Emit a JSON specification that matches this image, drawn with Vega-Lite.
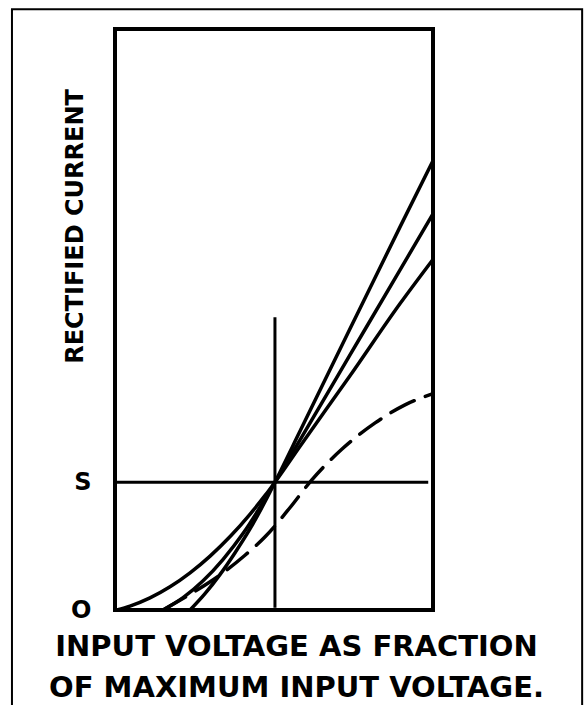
{
  "$schema": "https://vega.github.io/schema/vega-lite/v6.json",
  "width": 318,
  "height": 581,
  "autosize": {"type": "none"},
  "padding": {"left": 115, "top": 29, "right": 152, "bottom": 95},
  "background": "white",
  "config": {
    "view": {"stroke": "black", "strokeWidth": 4},
    "axis": {"grid": false}
  },
  "datasets": {
    "curves": [
      {"curve": "A", "v": 0.006, "i": 0.0},
      {"curve": "A", "v": 0.047, "i": 0.0066},
      {"curve": "A", "v": 0.110, "i": 0.0208},
      {"curve": "A", "v": 0.173, "i": 0.0399},
      {"curve": "A", "v": 0.236, "i": 0.0639},
      {"curve": "A", "v": 0.299, "i": 0.0928},
      {"curve": "A", "v": 0.362, "i": 0.1265},
      {"curve": "A", "v": 0.425, "i": 0.1652},
      {"curve": "A", "v": 0.472, "i": 0.1972},
      {"curve": "A", "v": 0.503, "i": 0.220},
      {"curve": "A", "v": 0.582, "i": 0.282},
      {"curve": "A", "v": 0.739, "i": 0.403},
      {"curve": "A", "v": 0.896, "i": 0.527},
      {"curve": "A", "v": 0.998, "i": 0.602},
      {"curve": "B", "v": 0.151, "i": 0.0},
      {"curve": "B", "v": 0.214, "i": 0.0212},
      {"curve": "B", "v": 0.277, "i": 0.0503},
      {"curve": "B", "v": 0.340, "i": 0.0873},
      {"curve": "B", "v": 0.403, "i": 0.132},
      {"curve": "B", "v": 0.465, "i": 0.1849},
      {"curve": "B", "v": 0.503, "i": 0.220},
      {"curve": "B", "v": 0.582, "i": 0.293},
      {"curve": "B", "v": 0.739, "i": 0.439},
      {"curve": "B", "v": 0.896, "i": 0.585},
      {"curve": "B", "v": 0.998, "i": 0.680},
      {"curve": "C", "v": 0.236, "i": 0.0},
      {"curve": "C", "v": 0.283, "i": 0.0281},
      {"curve": "C", "v": 0.330, "i": 0.0609},
      {"curve": "C", "v": 0.377, "i": 0.0982},
      {"curve": "C", "v": 0.425, "i": 0.140},
      {"curve": "C", "v": 0.472, "i": 0.1867},
      {"curve": "C", "v": 0.503, "i": 0.220},
      {"curve": "C", "v": 0.582, "i": 0.308},
      {"curve": "C", "v": 0.739, "i": 0.484},
      {"curve": "C", "v": 0.896, "i": 0.659},
      {"curve": "C", "v": 0.998, "i": 0.771},
      {"curve": "D", "v": 0.151, "i": 0.0},
      {"curve": "D", "v": 0.242, "i": 0.029},
      {"curve": "D", "v": 0.327, "i": 0.059},
      {"curve": "D", "v": 0.406, "i": 0.093},
      {"curve": "D", "v": 0.472, "i": 0.126},
      {"curve": "D", "v": 0.550, "i": 0.176},
      {"curve": "D", "v": 0.619, "i": 0.224},
      {"curve": "D", "v": 0.714, "i": 0.277},
      {"curve": "D", "v": 0.818, "i": 0.322},
      {"curve": "D", "v": 0.912, "i": 0.353},
      {"curve": "D", "v": 0.998, "i": 0.372}
    ],
    "guides": [
      {"v": 0.0, "v2": 0.985, "i": 0.22, "i2": 0.22},
      {"v": 0.503, "v2": 0.503, "i": 0.004, "i2": 0.504}
    ]
  },
  "layer": [
    {
      "data": {"values": [{}]},
      "mark": {"type": "rect", "filled": false, "stroke": "black", "strokeWidth": 2, "clip": false},
      "encoding": {
        "x": {"datum": -0.324, "type": "quantitative", "scale": {"domain": [0, 1], "nice": false, "zero": false}},
        "x2": {"datum": 1.469},
        "y": {"datum": 1.034, "type": "quantitative", "scale": {"domain": [0, 1], "nice": false, "zero": false}},
        "y2": {"datum": -0.18}
      }
    },
    {
      "data": {"name": "guides"},
      "mark": {"type": "rule", "color": "black", "strokeWidth": 3},
      "encoding": {
        "x": {"field": "v", "type": "quantitative"},
        "x2": {"field": "v2"},
        "y": {"field": "i", "type": "quantitative"},
        "y2": {"field": "i2"}
      }
    },
    {
      "data": {"name": "curves"},
      "transform": [{"filter": "datum.curve != 'D'"}],
      "mark": {"type": "line", "color": "black", "strokeWidth": 3.5, "interpolate": "monotone", "strokeCap": "round"},
      "encoding": {
        "x": {
          "field": "v", "type": "quantitative",
          "axis": {
            "title": ["INPUT VOLTAGE AS FRACTION", "OF MAXIMUM INPUT VOLTAGE."],
            "labels": false, "ticks": false, "domain": false,
            "titleFont": "DejaVu Sans", "titleFontWeight": "bold", "titleFontSize": 29,
            "titleColor": "black",
            "titleX": 181, "titleY": 45, "titleAlign": "center", "titleBaseline": "alphabetic",
            "titleLineHeight": 41, "titleAnchor": null
          }
        },
        "y": {
          "field": "i", "type": "quantitative",
          "axis": {
            "title": "RECTIFIED CURRENT",
            "values": [0, 0.22],
            "labelExpr": "datum.value == 0 ? 'O' : 'S'",
            "labelFont": "DejaVu Sans", "labelFontWeight": "bold", "labelFontSize": 24,
            "labelColor": "black", "labelPadding": 24, "labelFlush": false, "labelOverlap": false,
            "ticks": false, "domain": false,
            "titleFont": "DejaVu Sans", "titleFontWeight": "bold", "titleFontSize": 24,
            "titleColor": "black",
            "titleX": -40, "titleY": 197, "titleAlign": "center", "titleBaseline": "middle",
            "titleAngle": -90, "titleAnchor": null
          }
        },
        "detail": {"field": "curve"}
      }
    },
    {
      "data": {"name": "curves"},
      "transform": [{"filter": "datum.curve == 'D'"}],
      "mark": {"type": "line", "color": "black", "strokeWidth": 3.5, "interpolate": "monotone", "strokeDash": [26, 12], "strokeCap": "round"},
      "encoding": {
        "x": {"field": "v", "type": "quantitative"},
        "y": {"field": "i", "type": "quantitative"}
      }
    }
  ]
}
